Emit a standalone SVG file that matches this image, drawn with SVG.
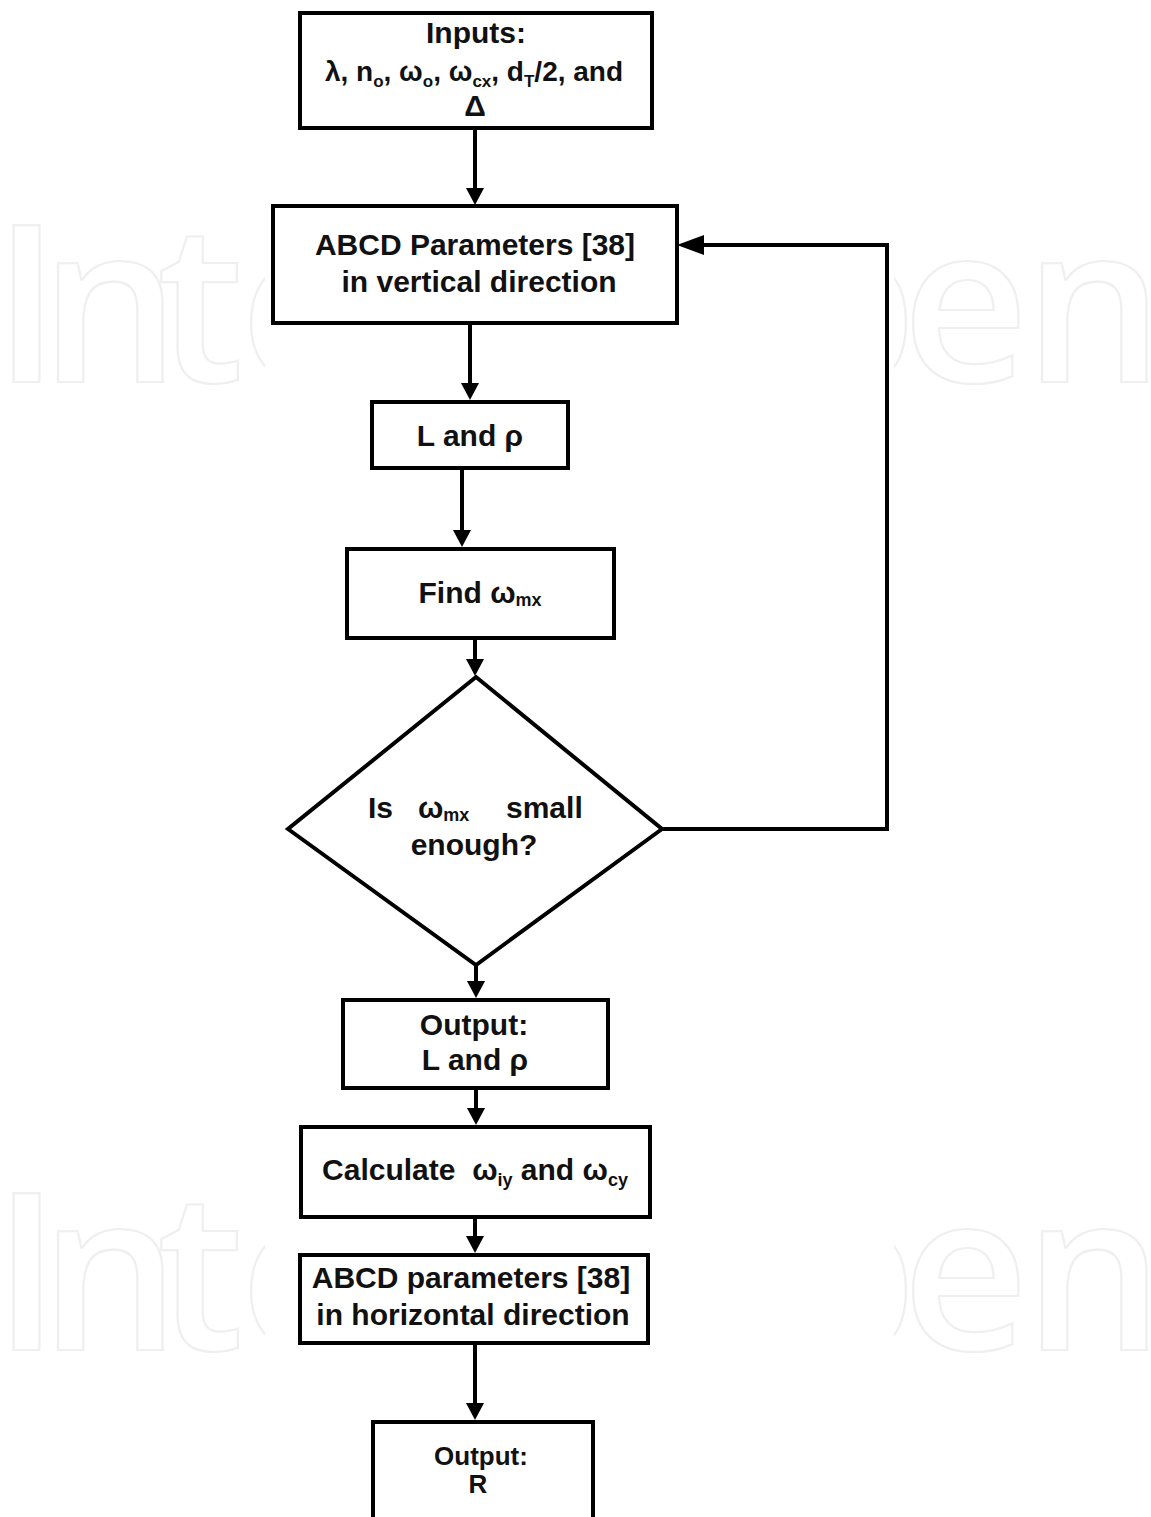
<svg xmlns="http://www.w3.org/2000/svg" width="1151" height="1517" viewBox="0 0 1151 1517">
<style>
.wm{font-family:"Open Sans","Liberation Sans",sans-serif;font-size:220px;font-weight:600;fill:none;stroke:#efefef;stroke-width:2.2}
.box{fill:#fff;stroke:#000;stroke-width:4}
.t{font-family:"Liberation Sans",Arial,sans-serif;font-weight:bold;font-size:30px;fill:#111;text-anchor:middle}
.s{font-size:18px}
.sm{font-size:26px}
.ln{fill:none;stroke:#000;stroke-width:4}
</style>
<defs>
<clipPath id="wmclip"><rect x="0" y="0" width="265" height="1517"/><rect x="894" y="0" width="257" height="1517"/></clipPath>
<marker id="av" markerUnits="userSpaceOnUse" markerWidth="18" markerHeight="18" refX="9" refY="9" orient="auto"><path d="M0,0 L17,9 L0,18 z" fill="#000"/></marker>
<marker id="ah" markerUnits="userSpaceOnUse" markerWidth="28" markerHeight="20" refX="18" refY="10" orient="auto"><path d="M0,0 L27,10 L0,20 z" fill="#000"/></marker>
</defs>
<rect width="1151" height="1517" fill="#fff"/>
<g id="watermark" clip-path="url(#wmclip)">
<text class="wm" x="-7 40 157 240" y="382">Inte</text>
<text class="wm" x="780 902 1024" y="382">pen</text>
<text class="wm" x="-7 40 157 240" y="1350">Inte</text>
<text class="wm" x="780 902 1024" y="1350">pen</text>
</g>
<g id="connectors">
<path class="ln" d="M475,128 V197" marker-end="url(#av)"/>
<path class="ln" d="M470,323 V392" marker-end="url(#av)"/>
<path class="ln" d="M462,468 V539" marker-end="url(#av)"/>
<path class="ln" d="M475,638 V668" marker-end="url(#av)"/>
<path class="ln" d="M662,829 H887 V245 H686" marker-end="url(#ah)"/>
<path class="ln" d="M476,965 V990" marker-end="url(#av)"/>
<path class="ln" d="M476,1088 V1117" marker-end="url(#av)"/>
<path class="ln" d="M475,1217 V1245" marker-end="url(#av)"/>
<path class="ln" d="M475,1343 V1412" marker-end="url(#av)"/>
</g>
<g id="inputs">
<rect class="box" x="300" y="13" width="352" height="115"/>
<text class="t" x="476" y="43">Inputs:</text>
<text class="t" style="font-size:28px" x="474" y="81">λ, n<tspan class="s" style="font-size:17px" dy="6">o</tspan><tspan dy="-6">, ω</tspan><tspan class="s" style="font-size:17px" dy="6">o</tspan><tspan dy="-6">, ω</tspan><tspan class="s" style="font-size:17px" dy="6">cx</tspan><tspan dy="-6">, d</tspan><tspan class="s" style="font-size:17px" dy="6">T</tspan><tspan dy="-6">/2, and</tspan></text>
<text class="t" x="475" y="116">Δ</text>
</g>
<g id="abcd-vertical">
<rect class="box" x="273" y="206" width="404" height="117"/>
<text class="t" x="475" y="255">ABCD Parameters [38]</text>
<text class="t" x="479" y="292">in vertical direction</text>
</g>
<g id="l-rho">
<rect class="box" x="372" y="402" width="196" height="66"/>
<text class="t" x="470" y="446">L and ρ</text>
</g>
<g id="find">
<rect class="box" x="347" y="549" width="267" height="89"/>
<text class="t" x="480" y="603">Find ω<tspan class="s" dy="3">mx</tspan></text>
</g>
<g id="decision">
<polygon class="box" points="476,677 662,829 476,965 288,829"/>
<text class="t" style="text-anchor:start" y="818"><tspan x="368">Is</tspan><tspan x="418">ω</tspan><tspan class="s" dy="3">mx</tspan><tspan x="506" dy="-3">small</tspan></text>
<text class="t" x="474" y="855">enough?</text>
</g>
<g id="output-l">
<rect class="box" x="343" y="1000" width="265" height="88"/>
<text class="t" x="474" y="1035">Output:</text>
<text class="t" x="475" y="1070">L and ρ</text>
</g>
<g id="calculate">
<rect class="box" x="301" y="1127" width="349" height="90"/>
<text class="t" x="475" y="1180">Calculate&#160; ω<tspan class="s" dy="6">iy</tspan><tspan dy="-6"> and ω</tspan><tspan class="s" dy="6">cy</tspan></text>
</g>
<g id="abcd-horizontal">
<rect class="box" x="300" y="1255" width="348" height="88"/>
<text class="t" x="471" y="1288">ABCD parameters [38]</text>
<text class="t" x="473" y="1325">in horizontal direction</text>
</g>
<g id="output-r">
<rect class="box" x="373" y="1422" width="220" height="110"/>
<text class="t sm" x="481" y="1465">Output:</text>
<text class="t sm" x="478" y="1493">R</text>
</g>
</svg>
